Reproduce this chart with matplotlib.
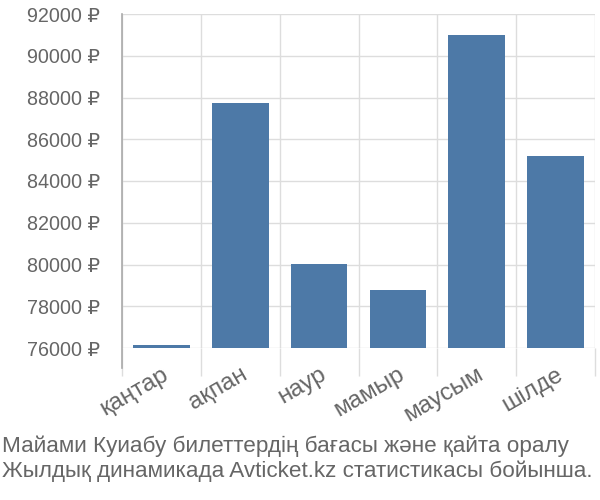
import matplotlib.pyplot as plt
import numpy as np

plt.rcParams['font.family'] = ['Liberation Sans', 'DejaVu Sans']

months = ['қаңтар', 'ақпан', 'наур', 'мамыр', 'маусым', 'шілде']
prices = [76120, 87740, 80020, 78780, 91000, 85200]
yticks = [76000, 78000, 80000, 82000, 84000, 86000, 88000, 90000, 92000]
title_lines = ['Майами Куиабу билеттердің бағасы және қайта оралу',
               'Жылдық динамикада Avticket.kz статистикасы бойынша.']

fig = plt.figure(figsize=(6, 5), dpi=100)
ax = fig.add_axes([0.2033, 0.304, 0.7884, 0.668])

x = np.arange(len(months))
ax.bar(x, [p - 76000 for p in prices], bottom=76000, width=0.72,
       color='#4d79a7', zorder=3)

ax.set_xlim(-0.5, len(months) - 0.5)
ax.set_ylim(76000, 92000)
ax.set_yticks(yticks)
ax.set_yticklabels([f'{v} ₽' for v in yticks])

ax.set_xticks(x)
ax.set_xticklabels(months, rotation=30, ha='right', rotation_mode='anchor')
ax.set_xticks(np.arange(len(months) + 1) - 0.5, minor=True)

ax.tick_params(axis='y', length=0, pad=16, labelsize=14.2, labelcolor='#666666')
ax.tick_params(axis='x', which='major', length=0, pad=11, labelsize=17.5,
               labelcolor='#666666')
ax.tick_params(axis='x', which='minor', length=20, color='#dddddd', width=1)

ax.grid(axis='y', color='#dddddd', linewidth=1, zorder=0)
ax.grid(axis='x', which='minor', color='#dddddd', linewidth=1, zorder=0)

for s in ['top', 'right', 'bottom', 'left']:
    ax.spines[s].set_visible(False)
ax.axvline(-0.5, ymin=-0.06, ymax=1, color='#aaaaaa', linewidth=1.2,
           clip_on=False, zorder=4)

fig.text(0.003, 0.108, title_lines[0], fontsize=16.2, color='#666666', va='center')
fig.text(0.003, 0.058, title_lines[1], fontsize=16.2, color='#666666', va='center')

fig.savefig('out.png')
